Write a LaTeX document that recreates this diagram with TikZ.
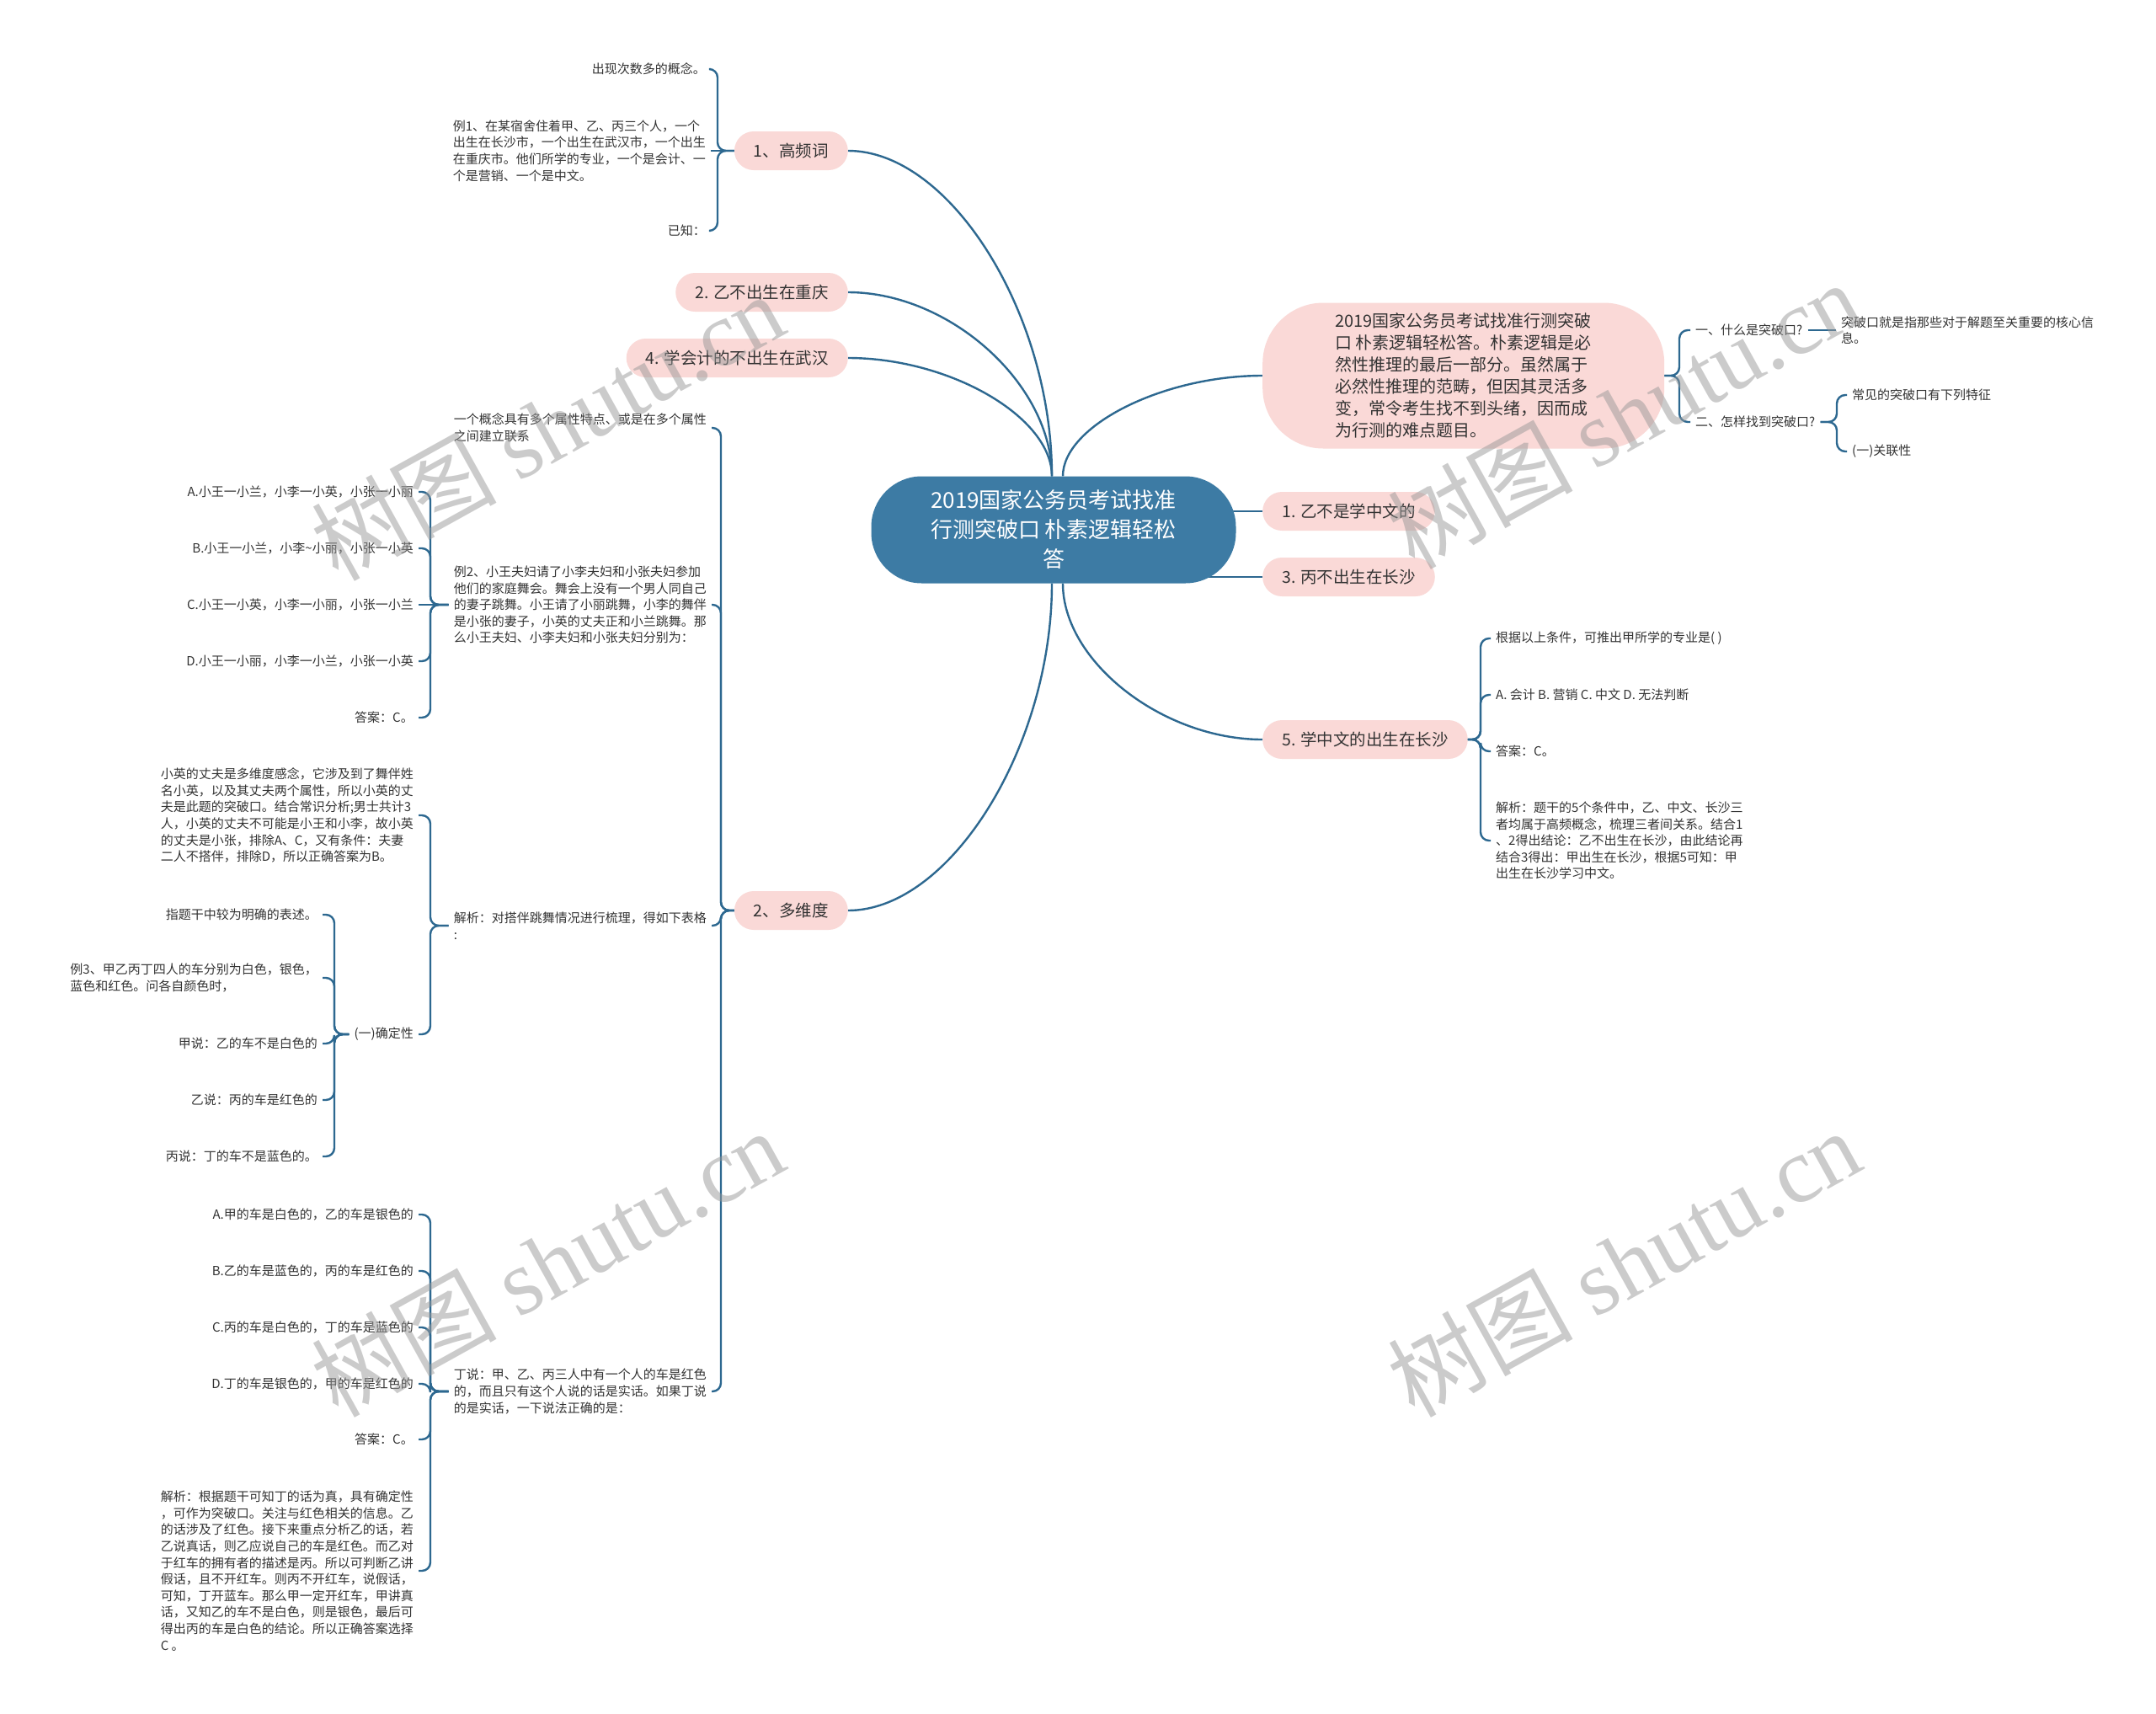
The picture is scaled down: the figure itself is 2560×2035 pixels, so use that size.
\documentclass[tikz,border=0pt]{standalone}
\usepackage{fontspec}
\setmainfont{Noto Sans CJK SC}
\newfontfamily\wmlat{Liberation Serif}
\usetikzlibrary{backgrounds,calc}
\definecolor{rootc}{HTML}{3D7BA4}
\definecolor{linec}{HTML}{2D6890}
\definecolor{pinkc}{HTML}{FAD9D7}
\definecolor{txtc}{HTML}{333333}
\definecolor{wmc}{HTML}{999999}
\newcommand\fsz[2]{\fontsize{#1}{#2}\selectfont}
\newcommand\lk[3]{\draw[conn,rounded corners=10pt] (#1) -- (#1 -| #2) -- (#2 |- #3) -- (#3);}
\newcommand\cv[2]{\draw[conn] (#1) .. controls ($(#1)!0.5!(#1 |- #2)$) and ($(#2)!0.5!(#1 |- #2)$) .. (#2);}
\begin{document}
\begin{tikzpicture}[x=1pt,y=-1pt,
  conn/.style={draw=linec,line width=2.4pt},
  rootn/.style={fill=rootc,text=white,font=\fsz{26}{35},align=center,minimum width=433pt,minimum height=127pt,rounded corners=60pt,inner sep=0pt},
  lvl/.style={fill=pinkc,text=txtc,font=\fsz{19.5}{24},rounded corners=23pt,minimum height=46pt,inner xsep=23pt,inner ysep=0pt},
  bign/.style={fill=pinkc,text=txtc,font=\fsz{20}{26},align=left,minimum width=477pt,minimum height=173pt,rounded corners=72pt,inner sep=0pt},
  leaf/.style={text=txtc,font=\fsz{15}{19.6},align=left,inner xsep=6pt,inner ysep=2pt},
  wmn/.style={text=wmc,opacity=0.5,rotate=29,font=\fsz{110}{110}}]
\useasboundingbox (0,0) rectangle (2560,2035);

% root
\node[rootn] (root) at (1251,629) {2019国家公务员考试找准\\行测突破口 朴素逻辑轻松\\答};
\coordinate (rtl) at ([xshift=-2pt]root.north);
\coordinate (rtr) at ([xshift=11pt]root.north);
\coordinate (rbl) at ([xshift=-2pt]root.south);
\coordinate (rbr) at ([xshift=11pt]root.south);

% level 1
\node[lvl,anchor=east] (a) at (1007,179) {1、高频词};
\node[lvl,anchor=east] (b) at (1007,347) {2. 乙不出生在重庆};
\node[lvl,anchor=east] (c) at (1007,425) {4. 学会计的不出生在武汉};
\node[lvl,anchor=east] (d) at (1007,1081) {2、多维度};
\node[bign,anchor=west] (e) at (1499,446) {2019国家公务员考试找准行测突破\\口 朴素逻辑轻松答。朴素逻辑是必\\然性推理的最后一部分。虽然属于\\必然性推理的范畴，但因其灵活多\\变，常令考生找不到头绪，因而成\\为行测的难点题目。};
\node[lvl,anchor=west] (f) at (1499,607) {1. 乙不是学中文的};
\node[lvl,anchor=west] (g) at (1499,685) {3. 丙不出生在长沙};
\node[lvl,anchor=west] (h) at (1499,878) {5. 学中文的出生在长沙};

% brace positions
\coordinate (ba) at (852,0);
\coordinate (bd) at (856,0);
\coordinate (b2) at (511,0);
\coordinate (b3) at (511,0);
\coordinate (b3b) at (397,0);
\coordinate (b4) at (511,0);
\coordinate (be) at (1994,0);
\coordinate (be2) at (2181,0);
\coordinate (bh) at (1758,0);

% subtree a
\node[leaf,anchor=east] (a1) at (844,82) {出现次数多的概念。};
\node[leaf,anchor=east] (a2) at (844,179) {例1、在某宿舍住着甲、乙、丙三个人，一个\\出生在长沙市，一个出生在武汉市，一个出生\\在重庆市。他们所学的专业，一个是会计、一\\个是营销、一个是中文。};
\node[leaf,anchor=east] (a3) at (844,274) {已知：};

% subtree d
\node[leaf,anchor=east] (d1) at (845,508) {一个概念具有多个属性特点、或是在多个属性\\之间建立联系};
\node[leaf,anchor=east] (d2) at (845,718) {例2、小王夫妇请了小李夫妇和小张夫妇参加\\他们的家庭舞会。舞会上没有一个男人同自己\\的妻子跳舞。小王请了小丽跳舞，小李的舞伴\\是小张的妻子，小英的丈夫正和小兰跳舞。那\\么小王夫妇、小李夫妇和小张夫妇分别为：};
\node[leaf,anchor=east] (d3) at (845,1099) {解析：对搭伴跳舞情况进行梳理，得如下表格\\:};
\node[leaf,anchor=east] (d4) at (845,1652) {丁说：甲、乙、丙三人中有一个人的车是红色\\的，而且只有这个人说的话是实话。如果丁说\\的是实话，一下说法正确的是：};

\node[leaf,anchor=east] (d21) at (497,584) {A.小王一小兰，小李一小英，小张一小丽};
\node[leaf,anchor=east] (d22) at (497,651) {B.小王一小兰，小李\textasciitilde 小丽，小张一小英};
\node[leaf,anchor=east] (d23) at (497,718) {C.小王一小英，小李一小丽，小张一小兰};
\node[leaf,anchor=east] (d24) at (497,785) {D.小王一小丽，小李一小兰，小张一小英};
\node[leaf,anchor=east] (d25) at (497,852) {答案：C。};

\node[leaf,anchor=east] (d31) at (497,968) {小英的丈夫是多维度感念，它涉及到了舞伴姓\\名小英，以及其丈夫两个属性，所以小英的丈\\夫是此题的突破口。结合常识分析;男士共计3\\人，小英的丈夫不可能是小王和小李，故小英\\的丈夫是小张，排除A、C，又有条件：夫妻\\二人不搭伴，排除D，所以正确答案为B。};
\node[leaf,anchor=east] (d32) at (497,1228) {(一)确定性};

\node[leaf,anchor=east] (d321) at (383,1086) {指题干中较为明确的表述。};
\node[leaf,anchor=east] (d322) at (383,1161) {例3、甲乙丙丁四人的车分别为白色，银色，\\蓝色和红色。问各自颜色时，};
\node[leaf,anchor=east] (d323) at (383,1239) {甲说：乙的车不是白色的};
\node[leaf,anchor=east] (d324) at (383,1306) {乙说：丙的车是红色的};
\node[leaf,anchor=east] (d325) at (383,1373) {丙说：丁的车不是蓝色的。};

\node[leaf,anchor=east] (d41) at (497,1442) {A.甲的车是白色的，乙的车是银色的};
\node[leaf,anchor=east] (d42) at (497,1509) {B.乙的车是蓝色的，丙的车是红色的};
\node[leaf,anchor=east] (d43) at (497,1576) {C.丙的车是白色的，丁的车是蓝色的};
\node[leaf,anchor=east] (d44) at (497,1643) {D.丁的车是银色的，甲的车是红色的};
\node[leaf,anchor=east] (d45) at (497,1709) {答案：C。};
\node[leaf,anchor=east] (d46) at (497,1865) {解析：根据题干可知丁的话为真，具有确定性\\，可作为突破口。关注与红色相关的信息。乙\\的话涉及了红色。接下来重点分析乙的话，若\\乙说真话，则乙应说自己的车是红色。而乙对\\于红车的拥有者的描述是丙。所以可判断乙讲\\假话，且不开红车。则丙不开红车，说假话，\\可知，丁开蓝车。那么甲一定开红车，甲讲真\\话，又知乙的车不是白色，则是银色，最后可\\得出丙的车是白色的结论。所以正确答案选择\\C 。};

% subtree e
\node[leaf,anchor=west] (e1) at (2007,392) {一、什么是突破口?};
\node[leaf,anchor=west] (e2) at (2007,501) {二、怎样找到突破口?};
\node[leaf,anchor=west] (e11) at (2180,392) {突破口就是指那些对于解题至关重要的核心信\\息。};
\node[leaf,anchor=west] (e21) at (2193,469) {常见的突破口有下列特征};
\node[leaf,anchor=west] (e22) at (2193,536) {(一)关联性};

% subtree h
\node[leaf,anchor=west] (h1) at (1770,758) {根据以上条件，可推出甲所学的专业是( )};
\node[leaf,anchor=west] (h2) at (1770,825) {A. 会计 B. 营销 C. 中文 D. 无法判断};
\node[leaf,anchor=west] (h3) at (1770,892) {答案：C。};
\node[leaf,anchor=west] (h4) at (1770,998) {解析：题干的5个条件中，乙、中文、长沙三\\者均属于高频概念，梳理三者间关系。结合1\\、2得出结论：乙不出生在长沙，由此结论再\\结合3得出：甲出生在长沙，根据5可知：甲\\出生在长沙学习中文。};

\begin{scope}[on background layer]
\fill[white] (0,0) rectangle (2560,2035);
\cv{rtl}{a.east}
\cv{rtl}{b.east}
\cv{rtl}{c.east}
\cv{rtr}{e.west}
\cv{rbl}{d.east}
\cv{rbr}{h.west}
\draw[conn] (root.center |- f.west) -- (f.west);
\draw[conn] (root.center |- g.west) -- (g.west);
\end{scope}

\lk{a.west}{ba}{a1.east}
\draw[conn] (a.west) -- (a2.east);
\lk{a.west}{ba}{a3.east}

\lk{d.west}{bd}{d1.east}
\lk{d.west}{bd}{d2.east}
\lk{d.west}{bd}{d3.east}
\lk{d.west}{bd}{d4.east}

\lk{d2.west}{b2}{d21.east}
\lk{d2.west}{b2}{d22.east}
\draw[conn] (d2.west) -- (d23.east);
\lk{d2.west}{b2}{d24.east}
\lk{d2.west}{b2}{d25.east}

\lk{d3.west}{b3}{d31.east}
\lk{d3.west}{b3}{d32.east}

\lk{d32.west}{b3b}{d321.east}
\lk{d32.west}{b3b}{d322.east}
\lk{d32.west}{b3b}{d323.east}
\lk{d32.west}{b3b}{d324.east}
\lk{d32.west}{b3b}{d325.east}

\lk{d4.west}{b4}{d41.east}
\lk{d4.west}{b4}{d42.east}
\lk{d4.west}{b4}{d43.east}
\lk{d4.west}{b4}{d44.east}
\lk{d4.west}{b4}{d45.east}
\lk{d4.west}{b4}{d46.east}

\lk{e.east}{be}{e1.west}
\lk{e.east}{be}{e2.west}
\draw[conn] (e1.east) -- (e11.west);
\lk{e2.east}{be2}{e21.west}
\lk{e2.east}{be2}{e22.west}

\lk{h.east}{bh}{h1.west}
\lk{h.east}{bh}{h2.west}
\lk{h.east}{bh}{h3.west}
\lk{h.east}{bh}{h4.west}

% watermarks
\node[wmn] (w1) at (650,506) {树图 {\wmlat shutu.cn}};
\node[wmn] (w2) at (1928,492) {树图 {\wmlat shutu.cn}};
\node[wmn] (w3) at (650,1499) {树图 {\wmlat shutu.cn}};
\node[wmn] (w4) at (1928,1499) {树图 {\wmlat shutu.cn}};
\end{tikzpicture}
\end{document}
